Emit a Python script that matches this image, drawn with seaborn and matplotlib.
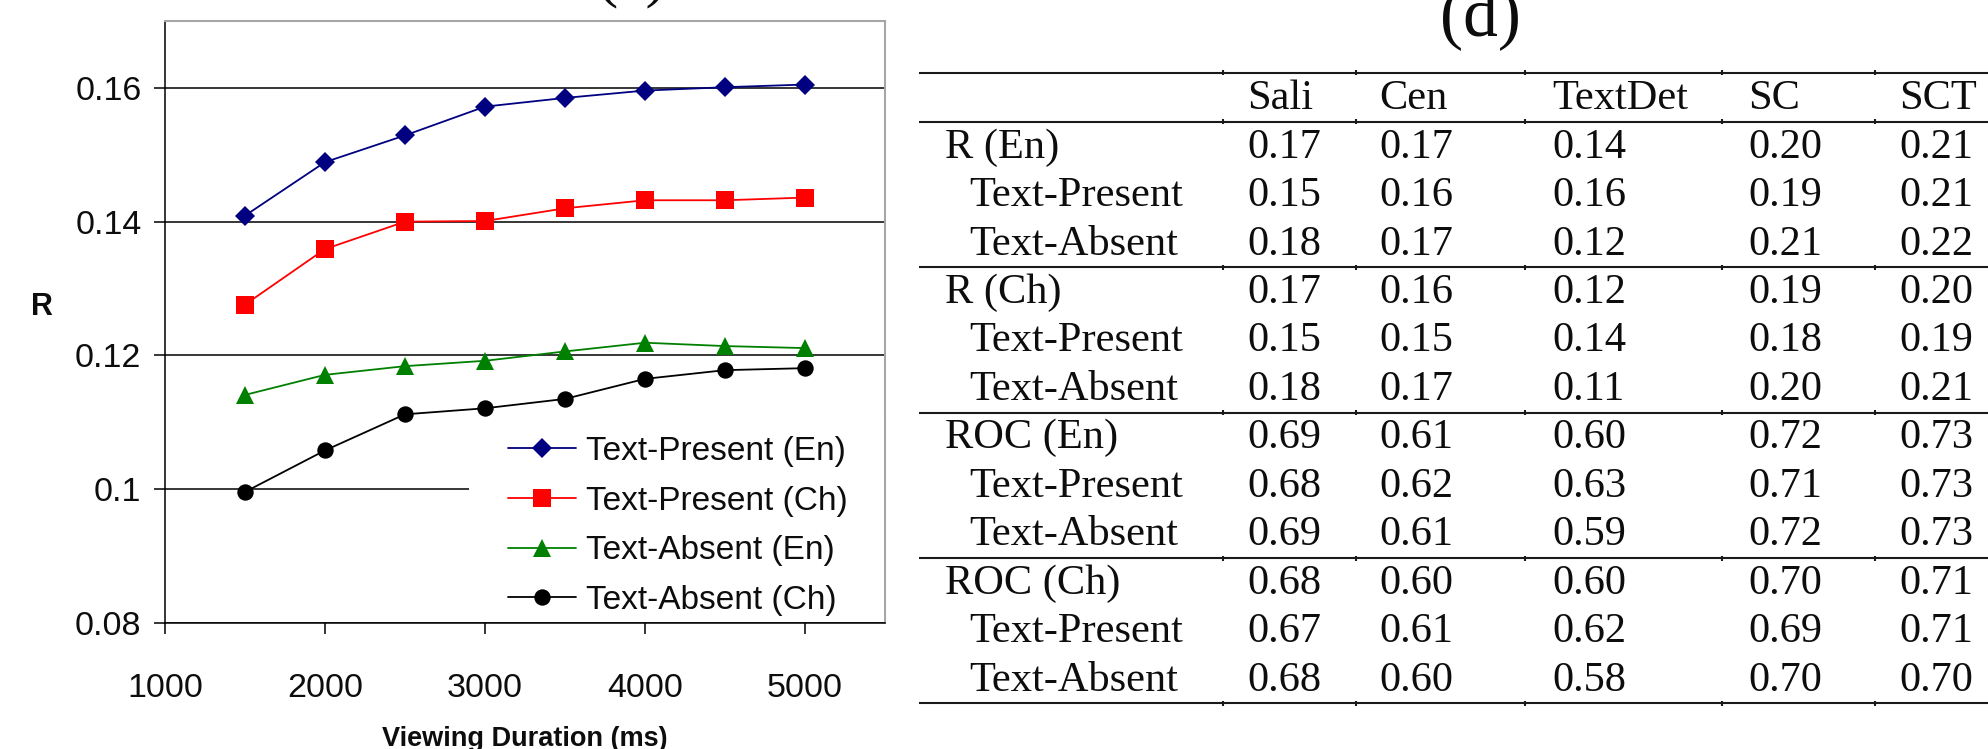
import matplotlib
matplotlib.use("Agg")
import matplotlib.pyplot as plt
import seaborn as sns
import pandas as pd
from matplotlib.patches import Rectangle

sns.set_theme(style="white")
plt.rcParams["font.family"] = ["Liberation Sans", "DejaVu Sans"]

W, H = 1988, 749

# ---- line chart data -------------------------------------------------------
duration = [1500, 2000, 2500, 3000, 3500, 4000, 4500, 5000]
present_en = [0.1409, 0.1489, 0.1529, 0.1572, 0.1585, 0.1596, 0.1601, 0.1605]
present_ch = [0.1276, 0.1359, 0.1400, 0.1401, 0.1420, 0.1432, 0.1432, 0.1436]
absent_en = [0.1141, 0.1171, 0.1184, 0.1192, 0.1206, 0.1219, 0.1214, 0.1211]
absent_ch = [0.0996, 0.1058, 0.1112, 0.1121, 0.1135, 0.1165, 0.1178, 0.1181]

series_names = ["Text-Present (En)", "Text-Present (Ch)",
                "Text-Absent (En)", "Text-Absent (Ch)"]
series_values = [present_en, present_ch, absent_en, absent_ch]
series_colors = ["#000080", "#FF0000", "#008000", "#000000"]
series_markers = ["D", "s", "^", "o"]
series_msize = [10.5, 12.8, 12.5, 11.8]

x_ticks = [1000, 2000, 3000, 4000, 5000]
y_ticks = [0.08, 0.10, 0.12, 0.14, 0.16]
y_tick_labels = ["0.08", "0.1", "0.12", "0.14", "0.16"]

# ---- table data ------------------------------------------------------------
table_columns = ["Sali", "Cen", "TextDet", "SC", "SCT"]
row_labels = ["R (En)", "Text-Present", "Text-Absent",
              "R (Ch)", "Text-Present", "Text-Absent",
              "ROC (En)", "Text-Present", "Text-Absent",
              "ROC (Ch)", "Text-Present", "Text-Absent"]
row_is_sub = [False, True, True] * 4
sali = [0.17, 0.15, 0.18, 0.17, 0.15, 0.18, 0.69, 0.68, 0.69, 0.68, 0.67, 0.68]
cen = [0.17, 0.16, 0.17, 0.16, 0.15, 0.17, 0.61, 0.62, 0.61, 0.60, 0.61, 0.60]
textdet = [0.14, 0.16, 0.12, 0.12, 0.14, 0.11, 0.60, 0.63, 0.59, 0.60, 0.62, 0.58]
sc = [0.20, 0.19, 0.21, 0.19, 0.18, 0.20, 0.72, 0.71, 0.72, 0.70, 0.69, 0.70]
sct = [0.21, 0.21, 0.22, 0.20, 0.19, 0.21, 0.73, 0.73, 0.73, 0.71, 0.71, 0.70]
table_values = [sali, cen, textdet, sc, sct]

fig = plt.figure(figsize=(W / 100, H / 100), dpi=100)
fig.patch.set_facecolor("white")

# ---- left panel: R versus viewing duration -----------------------------------
ax = fig.add_axes([165 / W, 1 - 623 / H, 720 / W, 602 / H])
ax.set_facecolor("white")

for name, vals, col, mk, ms in zip(series_names, series_values, series_colors,
                                   series_markers, series_msize):
    df = pd.DataFrame({"duration": duration, "R": vals})
    sns.lineplot(data=df, x="duration", y="R", ax=ax, color=col, marker=mk,
                 markersize=ms, markeredgewidth=0, linewidth=1.3,
                 label=name, zorder=4)

ax.set_xlim(1000, 5500)
ax.set_ylim(0.08, 0.17)
ax.set_xticks(x_ticks)
ax.set_xticklabels([str(t) for t in x_ticks])
ax.set_yticks(y_ticks)
ax.set_yticklabels(y_tick_labels)
ax.tick_params(axis="both", direction="out", length=8, width=1.1,
               color="black", labelsize=24.5, labelcolor="#0d0d0d",
               left=True, bottom=True)
ax.tick_params(axis="x", pad=28)
ax.tick_params(axis="y", pad=9)

ax.yaxis.grid(True, color="black", linewidth=1.1)
ax.xaxis.grid(False)
ax.set_axisbelow(True)

for side in ("left", "bottom"):
    ax.spines[side].set_color("black")
    ax.spines[side].set_linewidth(1.1)
for side in ("top", "right"):
    ax.spines[side].set_color("#a6a6a6")
    ax.spines[side].set_linewidth(1.5)

ax.set_xlabel("Viewing Duration (ms)", fontsize=19.5, fontweight="bold",
              color="#0d0d0d")
ax.xaxis.set_label_coords(0.5, (623 - 746) / 602)
ax.xaxis.label.set_va("baseline")
ax.set_ylabel("R", fontsize=22, fontweight="bold", rotation=0,
              color="#0d0d0d")
ax.yaxis.set_label_coords((42 - 165) / 720, (623 - 315) / 602)
ax.yaxis.label.set_va("baseline")
ax.yaxis.label.set_ha("center")

# white legend area
ax.add_patch(Rectangle(((469 - 165) / 720, 0.002), (884 - 469) / 720, 0.335,
                       transform=ax.transAxes, facecolor="white",
                       edgecolor="none", zorder=3))
leg = ax.legend(loc="center left", bbox_to_anchor=((508 - 165) / 720,
                                                   (623 - 526) / 602),
                frameon=False, fontsize=24, handlelength=2.05,
                handletextpad=0.3, labelspacing=0.56, borderpad=0,
                borderaxespad=0)
leg.set_zorder(5)
for t in leg.get_texts():
    t.set_color("#0d0d0d")

# ---- right panel: results table -------------------------------------------
tab = fig.add_axes([0, 0, 1, 1])
tab.set_xlim(0, W)
tab.set_ylim(H, 0)
tab.axis("off")
tab.set_zorder(-1)

serif = ["Liberation Serif", "DejaVu Serif"]
tfs = 30.5
label_x, sub_x = 945, 969
col_x = [1247, 1379, 1552, 1748, 1899]
col_bounds = [1223, 1356, 1525, 1722, 1875]
header_top, body_top, row_h = 72.6, 121.8, 48.47

rules = [header_top] + [body_top + 3 * k * row_h for k in range(5)]
tab.hlines(rules, 919, W + 5, color="#1a1a1a", linewidth=1.5)
for ry in rules:
    tab.vlines(col_bounds, ry - 2.5, ry + 2.5, color="#1a1a1a", linewidth=1.5)

for cx, name in zip(col_x, table_columns):
    tab.text(cx, header_top + 36.3, name, fontsize=tfs, family=serif,
             va="baseline", ha="left", color="#0d0d0d")

for i, (lab, sub) in enumerate(zip(row_labels, row_is_sub)):
    base = body_top + row_h * i + 35.8
    tab.text(sub_x if sub else label_x, base, lab, fontsize=tfs, family=serif,
             va="baseline", ha="left", color="#0d0d0d")
    for cx, col in zip(col_x, table_values):
        tab.text(cx, base, f"{col[i]:.2f}", fontsize=tfs, family=serif,
                 va="baseline", ha="left", color="#0d0d0d")

# panel captions
fig.text(632 / W, 1 + 6 / H, "(c)", fontsize=46, family=serif,
         ha="center", va="baseline", color="#0d0d0d")
fig.text(1480 / W, 1 - 35 / H, "(d)", fontsize=50, family=serif,
         ha="center", va="baseline", color="#0d0d0d")

fig.savefig("out.png", dpi=100, facecolor="white")
